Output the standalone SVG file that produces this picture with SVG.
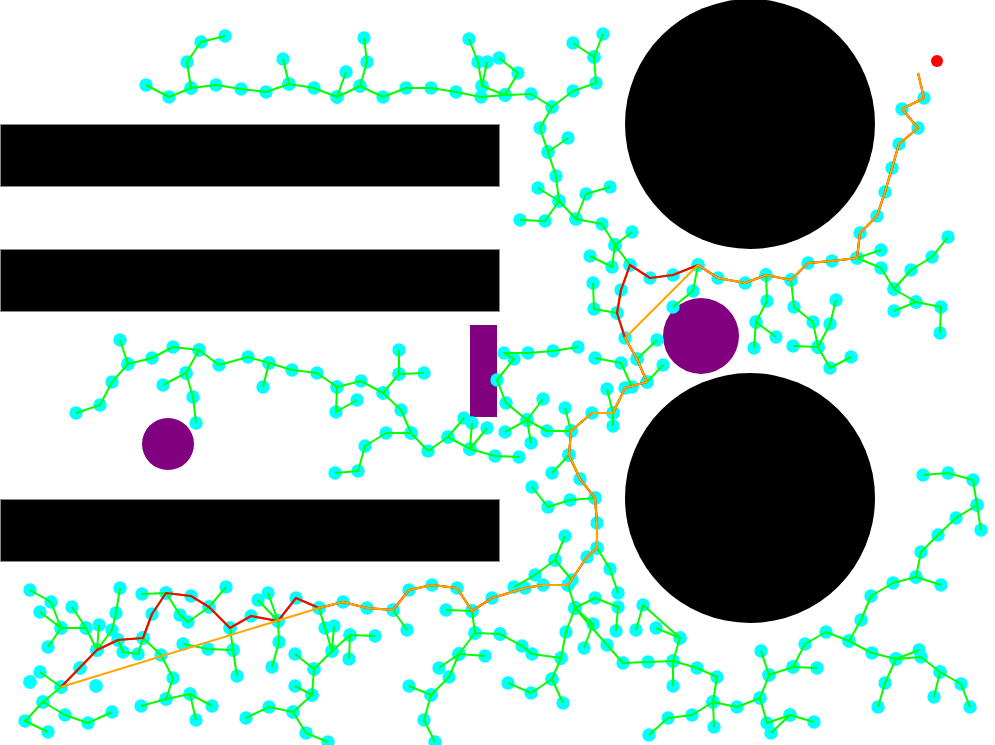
<svg xmlns="http://www.w3.org/2000/svg" xmlns:xlink="http://www.w3.org/1999/xlink" width="995" height="745" viewBox="0 0 995 745">
<style>
.obs{fill:#000;stroke:#8a8a8a;stroke-width:1}
.pur{fill:#800080}
.nodes{fill:none;stroke:none;marker-start:url(#n);marker-mid:url(#n);marker-end:url(#n)}
.edges{fill:none;stroke:#00ff00;stroke-width:2;stroke-linejoin:round;marker-start:none;marker-mid:none;marker-end:none}
.red{fill:none;stroke:#ff0000;stroke-width:2.2;stroke-linejoin:round}
.orange{fill:none;stroke:#ffa500;stroke-width:2;stroke-linejoin:round}
</style>
<defs>
<marker id="n" markerUnits="userSpaceOnUse" markerWidth="16" markerHeight="16" refX="8" refY="8" viewBox="0 0 16 16" overflow="visible"><circle cx="8" cy="8" r="6.7" fill="#00ffff" stroke="none"/></marker>
<g id="tree">
<polyline points="146,85 169,97 191,88 216,85 241,89 266,92 289,84 314,88 337,97 360,86 383,97 406,88 431,88 456,92 481,97 505,95 531,94 552,107 573,91 596,83 594,57 573,43"/>
<polyline points="191,88 187,62 201,42 225,36"/>
<polyline points="289,84 283,59"/>
<polyline points="337,97 346,72"/>
<polyline points="360,86 367,62 364,38"/>
<polyline points="469,39 478,62 482,86 505,95"/>
<polyline points="487,62 482,86"/>
<polyline points="499,58 518,73 505,95"/>
<polyline points="594,57 603,34"/>
<polyline points="552,107 540,128 548,152 568,138"/>
<polyline points="548,152 556,176 559,201 545,221 520,220"/>
<polyline points="538,188 559,201 576,219 586,194 610,187"/>
<polyline points="576,219 602,224 615,245 632,232"/>
<polyline points="615,245 630,265 650,278 673,275 698,265 693,291 673,307"/>
<polyline points="615,245 612,267 590,256"/>
<polyline points="630,265 621,290 617,313 625,338 637,359 647,382 625,388 613,413 592,413 571,431 569,455 580,479 595,498 597,523 597,548 587,557 568,585 543,585 525,588 492,598 472,611 457,588 432,585 409,590 393,610 367,608 343,602 319,608 296,598 278,621 251,616 230,628 209,607 191,596 166,593 152,614 143,638 118,640 97,650 61,687"/>
<polyline points="617,313 594,309 593,283"/>
<polyline points="657,340 637,359"/>
<polyline points="663,365 647,382"/>
<polyline points="595,358 621,363 632,387"/>
<polyline points="607,389 613,413 613,426"/>
<polyline points="578,347 553,351 528,353 504,353 514,359 497,380 506,403 527,420 543,399"/>
<polyline points="505,432 527,420 531,443"/>
<polyline points="527,420 547,431 571,431"/>
<polyline points="565,408 571,431"/>
<polyline points="569,455 552,473"/>
<polyline points="532,487 548,507 570,500 595,498"/>
<polyline points="519,457 495,456 470,449 448,437 428,451 411,433 401,410 383,393 361,381 337,387 317,373 292,370 269,363 248,357 219,365 199,350 173,347 152,358 128,364 120,340"/>
<polyline points="448,437 464,418"/>
<polyline points="470,449 472,423"/>
<polyline points="470,449 487,428"/>
<polyline points="128,364 112,382 100,405 76,413"/>
<polyline points="199,350 186,373 163,385"/>
<polyline points="186,373 193,397 196,423"/>
<polyline points="269,363 263,387"/>
<polyline points="337,387 336,412 357,400"/>
<polyline points="383,393 399,374 399,350"/>
<polyline points="399,374 424,373"/>
<polyline points="411,433 386,433 365,446 358,471 335,473"/>
<polyline points="698,265 718,278 745,283 766,275 791,280 808,263 832,261 857,258 860,233 877,216 885,192 892,168 899,144 918,128 902,109 924,98"/>
<polyline points="881,250 857,258 881,268 894,289 911,270 932,257 948,237"/>
<polyline points="894,289 916,302 941,307 940,333"/>
<polyline points="916,302 894,311"/>
<polyline points="766,275 767,301 756,322 776,337"/>
<polyline points="756,322 754,348"/>
<polyline points="791,280 794,307 813,322 818,347 793,346"/>
<polyline points="818,347 830,368 851,357"/>
<polyline points="818,347 830,324 836,300"/>
<polyline points="923,475 948,473 973,480 977,505 981,530"/>
<polyline points="977,505 956,518 938,535 921,552 916,577 941,585"/>
<polyline points="916,577 893,583 871,596 861,620 849,641 826,632 805,644 793,667 769,675"/>
<polyline points="793,667 817,668"/>
<polyline points="761,651 769,675 760,698 767,723 790,715 814,722"/>
<polyline points="790,715 771,733"/>
<polyline points="849,641 872,653 896,659 921,657 940,672 961,684 970,707"/>
<polyline points="940,672 934,697"/>
<polyline points="896,659 885,683 878,707"/>
<polyline points="896,659 919,650"/>
<polyline points="760,698 737,707 713,702 714,727"/>
<polyline points="713,702 692,715 668,718 649,735"/>
<polyline points="713,702 717,677 697,668 673,661 648,662 623,663 607,645 575,608"/>
<polyline points="673,661 673,686"/>
<polyline points="673,661 680,638 643,605 636,630"/>
<polyline points="680,638 656,628"/>
<polyline points="575,608 595,598 618,607 616,631"/>
<polyline points="575,608 593,624 584,648"/>
<polyline points="575,608 566,632 561,658 532,654 522,646 500,634"/>
<polyline points="561,658 552,679 531,693 508,683"/>
<polyline points="552,679 563,703"/>
<polyline points="575,608 568,585"/>
<polyline points="597,548 610,569 618,593"/>
<polyline points="565,536 555,560 535,575 514,587"/>
<polyline points="555,560 572,580"/>
<polyline points="268,593 278,621 279,642 272,667"/>
<polyline points="258,600 278,621"/>
<polyline points="319,608 325,628 332,651 350,635 375,636"/>
<polyline points="334,626 332,651 314,669 295,654"/>
<polyline points="350,635 349,659"/>
<polyline points="314,669 312,695 295,686"/>
<polyline points="312,695 293,712 269,707 246,718"/>
<polyline points="293,712 306,733 328,742"/>
<polyline points="393,610 407,630"/>
<polyline points="472,611 446,610"/>
<polyline points="472,611 475,633 500,634"/>
<polyline points="475,633 459,654 485,656"/>
<polyline points="459,654 439,668"/>
<polyline points="459,654 449,677 431,695 409,686"/>
<polyline points="431,695 424,720 435,742"/>
<polyline points="30,590 51,602 61,628 48,647"/>
<polyline points="40,612 61,628 86,628 97,650"/>
<polyline points="72,607 86,628"/>
<polyline points="99,625 97,650"/>
<polyline points="120,588 116,613 112,630 97,650"/>
<polyline points="118,640 123,652 138,654 143,638"/>
<polyline points="142,594 166,593 180,615 188,622 209,607 226,587"/>
<polyline points="230,628 233,650 237,676"/>
<polyline points="233,650 208,649 183,644"/>
<polyline points="143,638 161,655 173,678 166,699 141,706"/>
<polyline points="166,699 190,694 196,720"/>
<polyline points="190,694 212,706"/>
<polyline points="40,672 61,687 43,702 25,721 48,732"/>
<polyline points="43,702 65,715 88,723 112,712"/>
<polyline points="80,668 80,668"/>
<polyline points="96,686 96,686"/>
<polyline points="30,682 30,682"/>
</g>
</defs>
<rect width="995" height="745" fill="#fff"/>
<g id="obstacles">
<rect class="obs" x="0.5" y="124.5" width="499" height="62"/>
<rect class="obs" x="0.5" y="249.5" width="499" height="62"/>
<rect class="obs" x="0.5" y="499.5" width="499" height="62"/>
<circle cx="750" cy="124" r="125" fill="#000"/>
<circle cx="750" cy="498" r="125" fill="#000"/>
<circle class="pur" cx="168" cy="444" r="26"/>
<circle class="pur" cx="701" cy="336" r="38"/>
<rect class="pur" x="470" y="325" width="27" height="92"/>
</g>
<g id="tree-nodes"><use xlink:href="#tree" href="#tree" class="nodes"/></g>
<g id="tree-edges"><use xlink:href="#tree" href="#tree" class="edges"/></g>
<g id="path">
<polyline class="red" points="918,73 924,98 902,109 918,128 899,144 892,168 885,192 877,216 860,233 857,258 832,261 808,263 791,280 766,275 745,283 718,278 698,265 673,275 650,278 630,265 621,290 617,313 625,338 637,359 647,382 625,388 613,413 592,413 571,431 569,455 580,479 595,498 597,523 597,548 587,557 568,585 543,585 525,588 492,598 472,611 457,588 432,585 409,590 393,610 367,608 343,602 319,608 296,598 278,621 251,616 230,628 209,607 191,596 166,593 152,614 143,638 118,640 97,650 61,687"/>
<polyline class="orange" points="918,73 924,98 902,109 918,128 899,144 892,168 885,192 877,216 860,233 857,258 832,261 808,263 791,280 766,275 745,283 718,278 698,265 625,338 637,359 647,382 625,388 613,413 592,413 571,431 569,455 580,479 595,498 597,523 597,548 587,557 568,585 543,585 525,588 492,598 472,611 457,588 432,585 409,590 393,610 367,608 343,602 319,608 61,687"/>
</g>
<circle id="goal" cx="937" cy="61" r="6" fill="#ff0000"/>
</svg>
